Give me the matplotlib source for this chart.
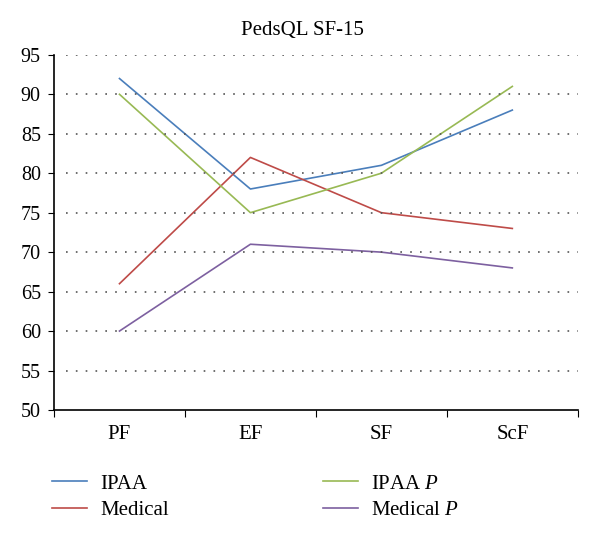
import matplotlib
matplotlib.use('Agg')
import matplotlib.pyplot as plt
import numpy as np

categories = ['PF', 'EF', 'SF', 'ScF']
ipaa = [92, 78, 81, 88]
medical = [66, 82, 75, 73]
ipaa_p = [90, 75, 80, 91]
medical_p = [60, 71, 70, 68]

plt.rcParams['font.family'] = 'Liberation Serif'
plt.rcParams['mathtext.fontset'] = 'custom'
plt.rcParams['mathtext.it'] = 'Liberation Serif:italic'
plt.rcParams['mathtext.rm'] = 'Liberation Serif'

fig = plt.figure(figsize=(6.0, 5.43), dpi=100)
ax = fig.add_axes([0.09, 0.245, 0.873, 0.654])

x = np.arange(len(categories)) + 0.5
ax.plot(x, ipaa, color='#4a7ebb', lw=1.2, label='IPAA')
ax.plot(x, medical, color='#be4b48', lw=1.2, label='Medical')
ax.plot(x, ipaa_p, color='#98b954', lw=1.2, label='IPAA $P$')
ax.plot(x, medical_p, color='#7d60a0', lw=1.2, label='Medical $P$')

ax.set_xlim(0, len(categories))
ax.set_ylim(50, 95)
ax.set_yticks(np.arange(50, 96, 5))
ax.set_xticks(np.arange(len(categories) + 1))
ax.set_xticklabels([])
ax.set_xticks(x, minor=True)
ax.set_xticklabels(categories, minor=True)
ax.tick_params(axis='x', which='minor', length=0, pad=11, labelsize=15)
ax.tick_params(axis='x', which='major', length=5, direction='out')
ax.tick_params(axis='y', length=4.5, labelsize=14.5, pad=5)

# dotted horizontal grid
for v in np.arange(55, 96, 5):
    ax.axhline(v, xmin=0.023, xmax=1.0, color='#555555', lw=1.2,
               linestyle=(0, (1, 4.9)))

for s in ['top', 'right']:
    ax.spines[s].set_visible(False)
ax.spines['left'].set_linewidth(1.2)
ax.spines['bottom'].set_linewidth(1.2)

fig.text(302 / 600, 1 - 30 / 543, 'PedsQL SF-15', ha='center', va='center', fontsize=15)

fig.legend(loc='upper left', bbox_to_anchor=(52 / 600, 0.127), ncol=2, frameon=False,
           fontsize=15, handlelength=1.68, columnspacing=7.4, labelspacing=0.35,
           handletextpad=0.62, borderpad=0, borderaxespad=0)

fig.savefig('out.png', dpi=100)
